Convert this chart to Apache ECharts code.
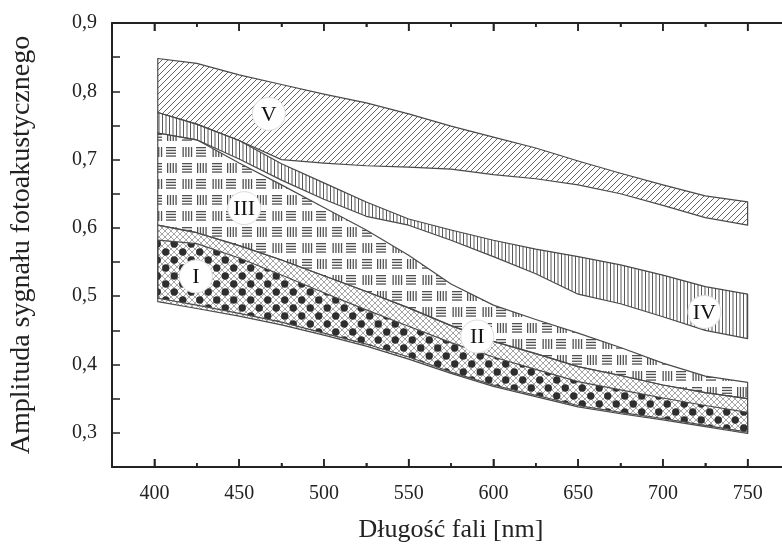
<!DOCTYPE html>
<html><head><meta charset="utf-8">
<script src="https://cdn.jsdelivr.net/npm/echarts@6/dist/echarts.min.js"></script>
<style>html,body{margin:0;padding:0;background:#fff}#c{width:782px;height:546px}</style>
</head><body><div id="c"></div>
<script>
// ---- data ----
const wavelength = [402, 425, 450, 475, 500, 525, 550, 575, 600, 625, 650, 675, 700, 725, 750];
const V_top    = [0.848, 0.841, 0.824, 0.810, 0.796, 0.783, 0.767, 0.749, 0.733, 0.717, 0.698, 0.680, 0.663, 0.647, 0.638];
const V_bottom = [0.769, 0.752, 0.728, 0.700, 0.695, 0.691, 0.689, 0.686, 0.678, 0.672, 0.663, 0.650, 0.633, 0.615, 0.604];
const IV_top    = [0.769, 0.752, 0.728, 0.694, 0.666, 0.638, 0.613, 0.597, 0.582, 0.569, 0.558, 0.546, 0.531, 0.514, 0.503];
const IV_bottom = [0.739, 0.729, 0.701, 0.670, 0.642, 0.617, 0.604, 0.582, 0.558, 0.533, 0.503, 0.489, 0.470, 0.450, 0.438];
const III_top    = [0.739, 0.729, 0.695, 0.663, 0.630, 0.597, 0.560, 0.518, 0.487, 0.466, 0.446, 0.425, 0.402, 0.383, 0.374];
const III_bottom = [0.604, 0.593, 0.574, 0.553, 0.530, 0.507, 0.483, 0.457, 0.434, 0.416, 0.397, 0.384, 0.370, 0.359, 0.350];
const II_top    = [0.604, 0.593, 0.574, 0.553, 0.530, 0.507, 0.483, 0.457, 0.434, 0.416, 0.397, 0.384, 0.370, 0.359, 0.350];
const II_bottom = [0.492, 0.482, 0.471, 0.458, 0.443, 0.427, 0.408, 0.387, 0.368, 0.353, 0.338, 0.328, 0.319, 0.309, 0.299];
const I_top    = [0.582, 0.577, 0.556, 0.531, 0.505, 0.480, 0.456, 0.432, 0.411, 0.393, 0.375, 0.363, 0.351, 0.340, 0.330];
const I_bottom = [0.497, 0.487, 0.475, 0.462, 0.446, 0.430, 0.411, 0.389, 0.370, 0.355, 0.340, 0.330, 0.321, 0.311, 0.301];

const labelNames = ['V', 'IV', 'III', 'II', 'I'];
const labelX = [467.5, 724.5, 453, 590.5, 424.5];
const labelY = [0.767, 0.477, 0.629, 0.441, 0.529];

const xMajorTicks = [400, 450, 500, 550, 600, 650, 700, 750];
const xMinorTicks = [425, 475, 525, 575, 625, 675, 725];

const xMin = 375, xMax = 775;
const yMin = 0.25, yMax = 0.9;

// ---- patterns ----
function tile(w, h, draw) {
  const c = document.createElement('canvas');
  c.width = w; c.height = h;
  const g = c.getContext('2d');
  draw(g, w, h);
  return { image: c, repeat: 'repeat' };
}
const patV = tile(6, 6, (g) => {
  g.strokeStyle = '#555'; g.lineWidth = 0.9;
  g.beginPath();
  g.moveTo(-1, 7); g.lineTo(7, -1);
  g.moveTo(-1, 1); g.lineTo(1, -1);
  g.moveTo(5, 7); g.lineTo(7, 5);
  g.stroke();
});
const patIV = tile(7, 10, (g, w, h) => {
  g.fillStyle = '#5a5a5a';
  g.fillRect(1, 0, 1, h);
  g.fillRect(4.5, 0, 1, h);
});
const patIII = tile(30, 32, (g) => {
  g.fillStyle = '#505050';
  for (let k = 0; k < 4; k++) g.fillRect(2, 3 + k * 2.8, 10, 1.3);
  for (let k = 0; k < 4; k++) g.fillRect(17 + k * 2.8, 3, 1.3, 10);
  for (let k = 0; k < 4; k++) g.fillRect(2.5 + k * 2.8, 19, 1.3, 10);
  for (let k = 0; k < 4; k++) g.fillRect(16, 19 + k * 2.8, 10, 1.3);
});
const patII = tile(6, 6, (g) => {
  g.strokeStyle = '#8f8f8f'; g.lineWidth = 0.8;
  g.beginPath();
  g.moveTo(-1, 7); g.lineTo(7, -1);
  g.moveTo(-1, -1); g.lineTo(7, 7);
  g.stroke();
});
const patI = tile(17, 16, (g) => {
  g.fillStyle = '#2e2e2e';
  const dots = [[4.25, 4], [12.75, 12], [12.75 - 17, 12], [4.25, 4 + 16], [12.75, 12 - 16], [4.25 + 17, 4]];
  dots.forEach(([x, y]) => { g.beginPath(); g.arc(x, y, 3.7, 0, Math.PI * 2); g.fill(); });
});

// ---- series: each band is a polygon between its low and high curves ----
function band(name, low, high, fill) {
  return {
    type: 'custom', name: name, z: 2, silent: true,
    data: wavelength.map((x, i) => [x, low[i], high[i]]),
    encode: { x: 0, y: [1, 2] },
    renderItem: function (params, api) {
      if (params.dataIndex !== 0) return null;
      const pts = [];
      for (let i = 0; i < wavelength.length; i++) pts.push(api.coord([wavelength[i], high[i]]));
      for (let i = wavelength.length - 1; i >= 0; i--) pts.push(api.coord([wavelength[i], low[i]]));
      return {
        type: 'polygon', shape: { points: pts },
        style: { fill: fill, stroke: '#4a4a4a', lineWidth: 1.2, lineJoin: 'round' }
      };
    }
  };
}

const font = 'Liberation Serif';
const labelSeries = {
  type: 'custom', name: 'labels', z: 10, silent: true,
  data: labelNames.map((nm, i) => [labelX[i], labelY[i]]),
  encode: { x: 0, y: 1 },
  renderItem: function (params, api) {
    const p = api.coord([api.value(0), api.value(1)]);
    return {
      type: 'group',
      children: [
        { type: 'circle', shape: { cx: p[0], cy: p[1], r: 16.5 }, style: { fill: '#fff', stroke: '#dcdcdc', lineWidth: 1 } },
        { type: 'text', x: p[0], y: p[1] + 1, style: { text: labelNames[params.dataIndex], fontFamily: font, fontSize: 22, fill: '#111', align: 'center', verticalAlign: 'middle' } }
      ]
    };
  }
};

// x-axis tick marks (inward on bottom and top frame lines), placed through the axis scales
function tickSeries(name, values, len) {
  return {
    type: 'custom', name: name, z: 20, silent: true, clip: false,
    data: values.map(v => [v, yMin, yMax]),
    encode: { x: 0, y: [1, 2] },
    renderItem: function (params, api) {
      const b = api.coord([api.value(0), api.value(1)]);
      const t = api.coord([api.value(0), api.value(2)]);
      const ls = { stroke: '#222', lineWidth: 1.5, fill: null };
      return {
        type: 'group',
        children: [
          { type: 'line', shape: { x1: b[0], y1: b[1], x2: b[0], y2: b[1] - len }, style: ls },
          { type: 'line', shape: { x1: t[0], y1: t[1], x2: t[0], y2: t[1] + len }, style: ls }
        ]
      };
    }
  };
}

const series = [
  band('V', V_bottom, V_top, patV),
  band('IV', IV_bottom, IV_top, patIV),
  band('III', III_bottom, III_top, patIII),
  band('II', II_bottom, II_top, patII),
  band('I', I_bottom, I_top, patI),
  labelSeries,
  tickSeries('majorTicks', xMajorTicks, 8),
  tickSeries('minorTicks', xMinorTicks, 4)
];

const isMajor = v => Math.abs(v % 50) < 1e-6 && v >= 400 && v <= 750;
function xAx(pos, withLabels) {
  return {
    type: 'value', min: xMin, max: xMax, splitNumber: 8, position: pos,
    axisLine: { show: true, lineStyle: { color: '#222', width: 2 } },
    axisTick: { show: true, inside: true, length: 8, lineStyle: { color: '#222', width: 1.5 } },
    minorTick: { show: true, splitNumber: 2, length: 4, lineStyle: { color: '#222', width: 1.5 } },
    axisLabel: { show: withLabels, fontFamily: font, fontSize: 20, color: '#222', margin: 17,
      formatter: v => isMajor(v) ? String(Math.round(v)) : '' },
    splitLine: { show: false },
    name: withLabels ? 'Długość fali [nm]' : '', nameLocation: 'middle', nameGap: 50,
    nameTextStyle: { fontFamily: font, fontSize: 26, color: '#222' }
  };
}
function yAx(pos, withLabels) {
  return {
    type: 'value', min: yMin, max: yMax, interval: 0.05, position: pos,
    axisLine: { show: true, lineStyle: { color: '#222', width: 2 } },
    axisTick: { show: true, inside: true, length: 8, lineStyle: { color: '#222', width: 1.5 } },
    axisLabel: { show: withLabels, fontFamily: font, fontSize: 20, color: '#222', margin: 15,
      formatter: v => (v > 0.26 && Math.abs(Math.round(v * 10) - v * 10) < 1e-6) ? v.toFixed(1).replace('.', ',') : '' },
    splitLine: { show: false },
    name: withLabels ? 'Amplituda sygnału fotoakustycznego' : '', nameLocation: 'middle', nameGap: 76,
    nameTextStyle: { fontFamily: font, fontSize: 28, color: '#222' }
  };
}
const option = {
  animation: false,
  grid: { left: 112, top: 23, right: -8, bottom: 79, containLabel: false, outerBoundsMode: 'none' },
  xAxis: [xAx('bottom', true), xAx('top', false)],
  yAxis: [yAx('left', true), yAx('right', false)],
  series: series
};
const chart = echarts.init(document.getElementById('c'));
chart.setOption(option);
</script></body></html>
